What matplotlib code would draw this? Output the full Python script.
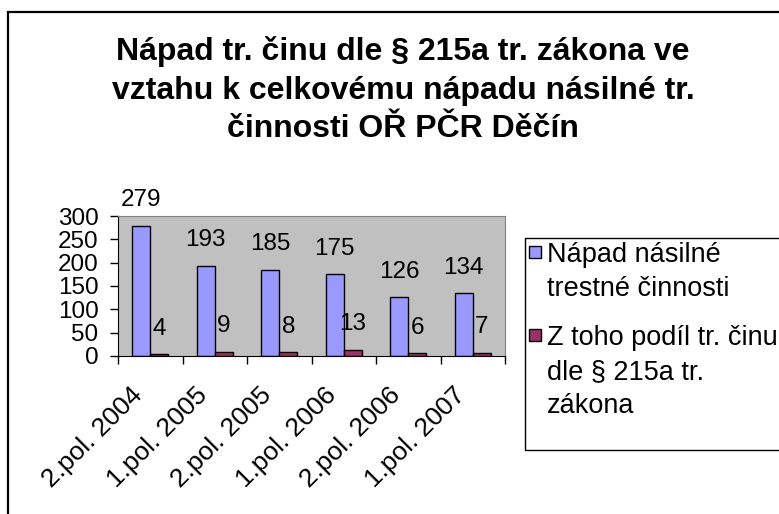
import numpy as np
import matplotlib.pyplot as plt
from matplotlib.patches import Rectangle
import matplotlib.transforms as mtransforms

plt.rcParams['font.family'] = ['Liberation Sans', 'DejaVu Sans']

# data
periods = ['2.pol. 2004', '1.pol. 2005', '2.pol. 2005', '1.pol. 2006', '2.pol. 2006', '1.pol. 2007']
total = [279, 193, 185, 175, 126, 134]
part_215a = [4, 9, 8, 13, 6, 7]
series_names = ['Nápad násilné\ntrestné činnosti', 'Z toho podíl tr. činu\ndle § 215a tr.\nzákona']
colors = ['#9999FF', '#993366']
title = 'Nápad tr. činu dle § 215a tr. zákona ve\nvztahu k celkovému nápadu násilné tr.\nčinnosti OŘ PČR Děčín'

W, H = 779, 514
fig = plt.figure(figsize=(W / 100, H / 100), dpi=100)

# outer chart border (cut off on right and bottom like the original)
fig.patches.append(Rectangle((8 / W, -0.1), 1.2, 1 - 12 / H + 0.1, transform=fig.transFigure,
                             fill=False, edgecolor='black', linewidth=1.6))

ax = fig.add_axes([118 / W, 1 - 356 / H, (505 - 118) / W, (356 - 216) / H])
ax.set_facecolor('#C0C0C0')

x = np.arange(len(periods))
w = 0.28
b1 = ax.bar(x - w / 2, total, w, color=colors[0], edgecolor='black', linewidth=1)
b2 = ax.bar(x + w / 2, part_215a, w, color=colors[1], edgecolor='black', linewidth=1)

for bars in (b1, b2):
    for rect in bars:
        h = rect.get_height()
        ax.annotate(f'{h:.0f}', (rect.get_x() + rect.get_width() / 2, h),
                    xytext=(0, 14), textcoords='offset points',
                    ha='center', va='baseline', fontsize=17.5, annotation_clip=False)

ax.set_xlim(-0.5, len(periods) - 0.5)
ax.set_ylim(0, 300)
ax.set_yticks(np.arange(0, 301, 50))
ax.tick_params(axis='y', length=6, width=1, pad=8, labelsize=17.5, direction='out')

ax.set_xticks(x)
ax.set_xticklabels(periods, rotation=45, ha='right', va='top', fontsize=19)
ax.set_xticks(np.arange(-0.5, len(periods)), minor=True)
ax.tick_params(axis='x', which='major', length=0, pad=19.5)
ax.tick_params(axis='x', which='minor', length=6, width=1, direction='out')
offset = mtransforms.ScaledTranslation(-3 / 100, 0, fig.dpi_scale_trans)
for lab in ax.get_xticklabels():
    lab.set_transform(lab.get_transform() + offset)

for side in ('top', 'right'):
    ax.spines[side].set_color('#808080')
ax.spines['left'].set_color('black')
ax.spines['bottom'].set_color('black')

fig.text(403 / W, 1 - 90 / H, title, ha='center', va='center', fontsize=23, fontweight='bold',
         linespacing=1.36, transform=fig.transFigure)

# legend drawn by hand so the markers line up with the first line of each entry
fig.patches.append(Rectangle((525 / W, 1 - 450 / H), 0.5, (450 - 238) / H, transform=fig.transFigure,
                             fill=False, edgecolor='black', linewidth=1))
entry_y = [252, 335]
for name, col, yy in zip(series_names, colors, entry_y):
    fig.patches.append(Rectangle((529 / W, 1 - (yy + 6) / H), 12 / W, 12 / H, transform=fig.transFigure,
                                 facecolor=col, edgecolor='black', linewidth=1))
    fig.text(547 / W, 1 - (yy - 10) / H, name, ha='left', va='top', fontsize=19.5, linespacing=1.4)

fig.savefig('out.png', dpi=100)
